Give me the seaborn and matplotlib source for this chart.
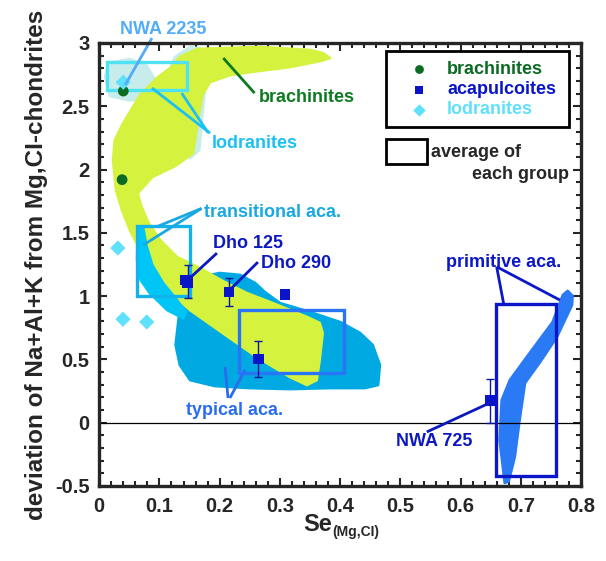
import numpy as np
import pandas as pd
import matplotlib
matplotlib.use("Agg")
import matplotlib.pyplot as plt
from matplotlib.patches import Polygon, Rectangle
import seaborn as sns

# ---- data ----
# brachinites, acapulcoites, lodranites (Se_(Mg,CI), deviation of Na+Al+K)
brach_x = [0.040, 0.038]
brach_y = [2.62, 1.92]
acap_x = [0.1427, 0.147, 0.2155, 0.3085, 0.264, 0.650]
acap_y = [1.127, 1.110, 1.032, 1.015, 0.503, 0.175]
lod_x = [0.040, 0.031, 0.0395, 0.079]
lod_y = [2.69, 1.38, 0.818, 0.796]

# error bars (x, y, +/-)
err_x = [0.147, 0.2155, 0.264, 0.6485]
err_y = [1.114, 1.030, 0.503, 0.172]
err_d = [0.131, 0.110, 0.143, 0.172]

# group averages (x0, x1, y0, y1)
box_lod = [0.0124, 0.146, 2.628, 2.851]
box_trans = [0.0622, 0.1507, 1.000, 1.554]
box_typ = [0.232, 0.406, 0.390, 0.889]
box_prim = [0.6586, 0.7593, -0.419, 0.935]

# fields of the groups (outline vertices)
field_lod = [(0.010, 2.731), (0.015, 2.841), (0.051, 2.873), (0.079, 2.818),
             (0.093, 2.707), (0.114, 2.754), (0.126, 2.889), (0.151, 2.968),
             (0.171, 2.952), (0.177, 2.731), (0.172, 2.470), (0.166, 2.154),
             (0.151, 2.091), (0.126, 2.233), (0.084, 2.549), (0.048, 2.549),
             (0.018, 2.581)]
field_brach = [(0.134, 2.889), (0.162, 2.952), (0.267, 2.968), (0.350, 2.944),
               (0.371, 2.920), (0.383, 2.881), (0.366, 2.857), (0.317, 2.810),
               (0.250, 2.770), (0.217, 2.746), (0.184, 2.691), (0.171, 2.588),
               (0.164, 2.391), (0.156, 2.130), (0.126, 2.028), (0.088, 1.941),
               (0.064, 1.814), (0.069, 1.720), (0.081, 1.585), (0.101, 1.443),
               (0.129, 1.309), (0.167, 1.222), (0.205, 1.119), (0.245, 1.024),
               (0.288, 0.945), (0.345, 0.835), (0.366, 0.788), (0.371, 0.709),
               (0.366, 0.495), (0.361, 0.337), (0.345, 0.298), (0.317, 0.361),
               (0.262, 0.519), (0.205, 0.709), (0.151, 0.890), (0.113, 1.048),
               (0.088, 1.190), (0.068, 1.364), (0.051, 1.522), (0.038, 1.680),
               (0.028, 1.838), (0.023, 2.075), (0.026, 2.233), (0.040, 2.367),
               (0.068, 2.588), (0.096, 2.723), (0.118, 2.802)]
field_typ = [(0.134, 0.906), (0.151, 1.088), (0.176, 1.159), (0.200, 1.182),
             (0.234, 1.167), (0.259, 1.103), (0.275, 1.032), (0.300, 0.945),
             (0.350, 0.874), (0.400, 0.795), (0.433, 0.709), (0.454, 0.614),
             (0.466, 0.456), (0.463, 0.298), (0.441, 0.274), (0.383, 0.274),
             (0.317, 0.266), (0.250, 0.274), (0.192, 0.290), (0.151, 0.337),
             (0.134, 0.456), (0.127, 0.614)]
field_trans = [(0.064, 1.538), (0.063, 1.285), (0.069, 1.127), (0.084, 1.024),
               (0.113, 0.890), (0.139, 0.827), (0.144, 0.874), (0.129, 0.969),
               (0.106, 1.103), (0.088, 1.246), (0.078, 1.404), (0.073, 1.538)]
field_prim = [(0.6735, -0.476), (0.665, -0.137), (0.6685, 0.179), (0.682, 0.337),
              (0.715, 0.551), (0.753, 0.795), (0.770, 1.009), (0.778, 1.041),
              (0.786, 1.001), (0.785, 0.930), (0.760, 0.677), (0.732, 0.479),
              (0.707, 0.314), (0.698, 0.021), (0.690, -0.271), (0.680, -0.461)]

# colours
C_BRACH = "#0b6b22"
C_ACAP = "#0a14c8"
C_LOD = "#5fe0fb"

sns.set_style("ticks")
plt.rcParams["font.family"] = ["Liberation Sans", "DejaVu Sans"]
plt.rcParams["font.weight"] = "bold"

fig = plt.figure(figsize=(6.06, 5.61), dpi=100)
ax = fig.add_axes([0.1637, 0.1337, 0.7950, 0.7897])

# fields
for pts, col, z in [(field_lod, "#c6ecec", 1), (field_typ, "#00a9e2", 2),
                    (field_brach, "#d5f23e", 3), (field_trans, "#00c6f7", 4),
                    (field_prim, "#2a7af5", 2)]:
    ax.add_patch(Polygon(pts, closed=True, facecolor=col, edgecolor=col,
                         lw=2, joinstyle="round", zorder=z))

# average boxes
for b, col in [(box_lod, "#4ee2f2"), (box_trans, "#12b2ea"),
               (box_typ, "#2a74f6"), (box_prim, "#0a16c8")]:
    ax.add_patch(Rectangle((b[0], b[2]), b[1] - b[0], b[3] - b[2], fill=False,
                           edgecolor=col, lw=2.4, zorder=5))

ax.axhline(0, color="black", lw=0.9, zorder=4.5)

# error bars and points
ax.errorbar(err_x, err_y, yerr=err_d, fmt="none", ecolor="#0a18a0",
            elinewidth=1, capsize=3, capthick=1, zorder=6)
pts = pd.DataFrame({
    "x": brach_x + acap_x + lod_x,
    "y": brach_y + acap_y + lod_y,
    "group": ["brachinites"] * len(brach_x) + ["acapulcoites"] * len(acap_x)
             + ["lodranites"] * len(lod_x),
})
sns.scatterplot(data=pts, x="x", y="y", hue="group", style="group",
                palette={"brachinites": C_BRACH, "acapulcoites": C_ACAP,
                         "lodranites": C_LOD},
                markers={"brachinites": "o", "acapulcoites": "s",
                         "lodranites": "D"},
                s=60, linewidth=0, legend=False, ax=ax, zorder=7)

# labels with leader lines
FS = 13


def label(text, xy_text, lines, col, ha="center"):
    ax.text(xy_text[0], xy_text[1], text, color=col, fontsize=FS,
            fontweight="bold", ha=ha, va="center", zorder=11, clip_on=False)
    for (x0, y0, x1, y1) in lines:
        ax.plot([x0, x1], [y0, y1], color=col, lw=2, zorder=8,
                clip_on=False, solid_capstyle="butt")


label("NWA 2235", (0.106, 3.110), [(0.0876, 3.039, 0.043, 2.667)], "#52acf8")
label("brachinites", (0.265, 2.572), [(0.206, 2.881, 0.258, 2.604)],
      "#0e7a22", ha="left")
label("lodranites", (0.259, 2.209), [(0.184, 2.288, 0.0876, 2.644),
                                     (0.181, 2.290, 0.137, 2.604)], "#1cc0f2")
label("transitional aca.", (0.174, 1.664), [(0.170, 1.693, 0.0954, 1.548),
                                            (0.170, 1.693, 0.0732, 1.404)],
      "#1aa8e2", ha="left")
label("Dho 125", (0.247, 1.419), [(0.1955, 1.340, 0.147, 1.127)], "#0c18c0")
label("Dho 290", (0.327, 1.261), [(0.2636, 1.269, 0.2167, 1.048)], "#0c18c0")
label("typical aca.", (0.224, 0.100), [(0.214, 0.195, 0.209, 0.440),
                                       (0.217, 0.195, 0.242, 0.416)],
      "#2a6cf0")
label("primitive aca.", (0.672, 1.269), [(0.660, 1.232, 0.672, 0.930),
                                         (0.660, 1.232, 0.765, 0.969)],
      "#0c18c8")
label("NWA 725", (0.556, -0.152), [(0.544, -0.073, 0.652, 0.164)], "#0c18c0")

# legend drawn by hand
ax.add_patch(Rectangle((0.595, 0.810), 0.381, 0.173, transform=ax.transAxes,
                       fill=False, edgecolor="black", lw=2, zorder=9))
for yy, name, col, mk in [(0.941, "brachinites", C_BRACH, "o"),
                          (0.894, "acapulcoites", C_ACAP, "s"),
                          (0.849, "lodranites", C_LOD, "D")]:
    ax.scatter([0.664], [yy], marker=mk, color=col, s=40, linewidths=0,
               transform=ax.transAxes, zorder=9)
    ax.text(0.722, yy, name, color=col, fontsize=FS, fontweight="bold",
            va="center", ha="left", transform=ax.transAxes, zorder=9)
ax.add_patch(Rectangle((0.595, 0.727), 0.086, 0.056, transform=ax.transAxes,
                       fill=False, edgecolor="black", lw=2, zorder=9))
ax.text(0.688, 0.752, "average of", fontsize=FS, fontweight="bold",
        va="center", ha="left", transform=ax.transAxes, zorder=9)
ax.text(0.975, 0.702, "each group", fontsize=FS, fontweight="bold",
        va="center", ha="right", transform=ax.transAxes, zorder=9)

# axes
ax.set_xlim(0, 0.8)
ax.set_ylim(-0.5, 3)
ax.set_xticks(np.arange(0, 0.81, 0.1))
ax.set_xticklabels(["0", "0.1", "0.2", "0.3", "0.4", "0.5", "0.6", "0.7", "0.8"])
ax.set_yticks(np.arange(-0.5, 3.01, 0.5))
ax.set_yticklabels(["-0.5", "0", "0.5", "1", "1.5", "2", "2.5", "3"])
ax.set_xticks(np.arange(0, 0.801, 0.02), minor=True)
ax.set_yticks(np.arange(-0.5, 3.001, 0.1), minor=True)
ax.tick_params(which="both", direction="in", top=True, right=True,
               width=1.5, labelsize=14.5)
ax.tick_params(axis="x", pad=8)
ax.tick_params(axis="y", pad=7)
ax.tick_params(which="major", length=6)
ax.tick_params(which="minor", length=3.5)
for t in ax.get_xticklabels() + ax.get_yticklabels():
    t.set_fontweight("bold")
for s in ax.spines.values():
    s.set_linewidth(2.4)
    s.set_zorder(10)

# x label: "Se" with a small subscript
ax.set_xlabel("")
fig.text(0.548, 0.054, "Se", fontsize=17, fontweight="bold",
         ha="right", va="baseline")
fig.text(0.548, 0.045, "(Mg,CI)", fontsize=10, fontweight="bold",
         ha="left", va="baseline")
ax.set_ylabel("deviation of Na+Al+K from Mg,CI-chondrites", fontsize=17.5,
              fontweight="bold", labelpad=5)

fig.savefig("out.png", dpi=100)
